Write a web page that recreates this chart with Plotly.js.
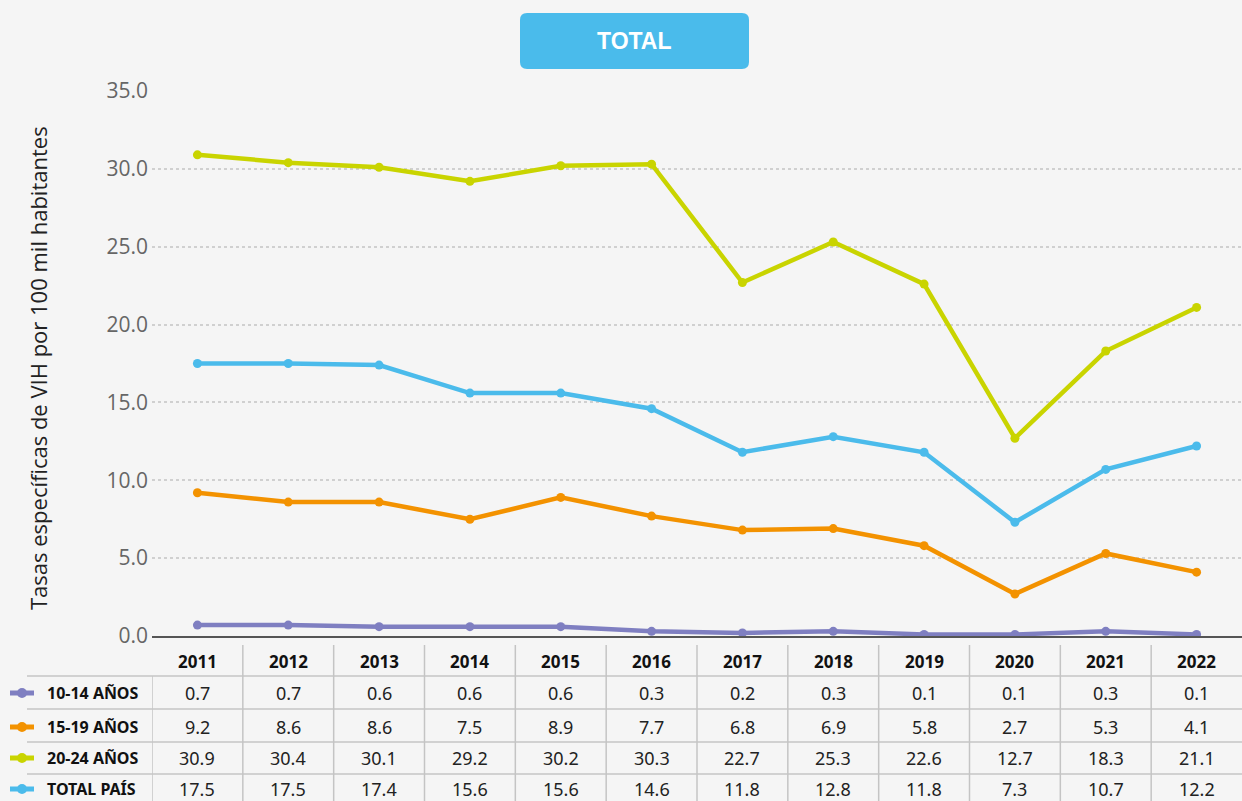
<!DOCTYPE html>
<html><head><meta charset="utf-8">
<script src="https://cdn.plot.ly/plotly-3.0.1.min.js"></script>
<style>html,body{margin:0;padding:0;background:#f5f5f5;}#chart{width:1242px;height:801px;}</style>
</head><body><div id="chart"></div>
<script>
const years = ['2011','2012','2013','2014','2015','2016','2017','2018','2019','2020','2021','2022'];
const serie1014 = [0.7,0.7,0.6,0.6,0.6,0.3,0.2,0.3,0.1,0.1,0.3,0.1];
const serie1519 = [9.2,8.6,8.6,7.5,8.9,7.7,6.8,6.9,5.8,2.7,5.3,4.1];
const serie2024 = [30.9,30.4,30.1,29.2,30.2,30.3,22.7,25.3,22.6,12.7,18.3,21.1];
const serieTotal = [17.5,17.5,17.4,15.6,15.6,14.6,11.8,12.8,11.8,7.3,10.7,12.2];
const seriesNames = ['10-14 AÑOS','15-19 AÑOS','20-24 AÑOS','TOTAL PAÍS'];
const seriesColors = ['#7f7fc1','#f39200','#c9d400','#4bbbeb'];
const yTicks = [0,5,10,15,20,25,30,35];
const chartTitle = 'TOTAL';
const yTitle = 'Tasas específicas de VIH por 100 mil habitantes';

const allSeries = [serie1014, serie1519, serie2024, serieTotal];

// layout geometry (pixels)
const W = 1242, H = 801, L = 152, R = 0, T = 91, B = 165;
const pw = W - L - R, ph = H - T - B;
const px = x => (x - L) / pw;
const py = y => (H - B - y) / ph;

const traces = allSeries.map((s, i) => ({
  type: 'scatter', mode: 'lines+markers', x: years, y: s, name: seriesNames[i],
  line: {color: seriesColors[i], width: 4.5},
  marker: {color: seriesColors[i], size: 9},
  hoverinfo: 'x+y+name'
}));

const annotations = [];
const shapes = [];

// Title box
const bx0 = 520, bx1 = 749, by0 = 13, by1 = 69, r = 7;
const rx = r / pw, ry = r / ph;
const X0 = px(bx0), X1 = px(bx1), Y0 = py(by0), Y1 = py(by1);
shapes.push({type: 'path', xref: 'paper', yref: 'paper',
  path: `M ${X0+rx},${Y0} L ${X1-rx},${Y0} Q ${X1},${Y0} ${X1},${Y0-ry} L ${X1},${Y1+ry} Q ${X1},${Y1} ${X1-rx},${Y1} L ${X0+rx},${Y1} Q ${X0},${Y1} ${X0},${Y1+ry} L ${X0},${Y0-ry} Q ${X0},${Y0} ${X0+rx},${Y0} Z`,
  fillcolor: '#4abbeb', line: {width: 0}, layer: 'above'});
annotations.push({text: '<b>' + chartTitle + '</b>', xref: 'paper', yref: 'paper',
  x: px((bx0 + bx1) / 2), y: py(41), showarrow: false, xanchor: 'center', yanchor: 'middle',
  font: {family: 'Liberation Sans, Arial, sans-serif', size: 23, color: '#ffffff'}});

// Y title
annotations.push({text: yTitle, xref: 'paper', yref: 'paper', x: px(38), y: py(368),
  textangle: -90, showarrow: false, xanchor: 'center', yanchor: 'middle',
  font: {family: 'Open Sans, Noto Sans, sans-serif', size: 22, color: '#222'}});

// Table
const headerY = 662;
const rowY = [693, 727, 758, 789];
const hLines = [676, 709, 742, 774];
const gridCol = '#c4c4c4';
years.forEach((yr, i) => {
  annotations.push({text: '<b>' + yr + '</b>', xref: 'x', yref: 'paper', x: i, y: py(headerY),
    showarrow: false, xanchor: 'center', yanchor: 'middle',
    font: {family: 'Noto Sans, sans-serif', size: 17, color: '#111'}});
});
allSeries.forEach((s, r) => {
  s.forEach((v, i) => {
    annotations.push({text: v.toFixed(1), xref: 'x', yref: 'paper', x: i, y: py(rowY[r]),
      showarrow: false, xanchor: 'center', yanchor: 'middle',
      font: {family: 'Noto Sans, sans-serif', size: 18, color: '#222'}});
  });
  annotations.push({text: '<b>' + seriesNames[r] + '</b>', xref: 'paper', yref: 'paper',
    x: px(45), y: py(rowY[r]), showarrow: false, xanchor: 'left', yanchor: 'middle',
    font: {family: 'Noto Sans, sans-serif', size: 16, color: '#111'}});
  shapes.push({type: 'line', xref: 'paper', yref: 'paper', x0: px(10), x1: px(34),
    y0: py(rowY[r]), y1: py(rowY[r]), line: {color: seriesColors[r], width: 5}});
  shapes.push({type: 'circle', xref: 'paper', yref: 'paper', x0: px(17), x1: px(27),
    y0: py(rowY[r] - 5), y1: py(rowY[r] + 5), fillcolor: seriesColors[r], line: {width: 0}});
});
hLines.forEach(y => shapes.push({type: 'line', xref: 'paper', yref: 'paper',
  x0: px(27), x1: 1, y0: py(y), y1: py(y), line: {color: gridCol, width: 1.5}}));
for (let i = 0; i < years.length - 1; i++) {
  shapes.push({type: 'line', xref: 'x', yref: 'paper', x0: i + 0.5, x1: i + 0.5,
    y0: py(645), y1: py(H + 5), line: {color: gridCol, width: 1.5}});
}
shapes.push({type: 'line', xref: 'x', yref: 'paper', x0: -0.5, x1: -0.5,
  y0: py(676), y1: py(H + 5), line: {color: gridCol, width: 1.5}});

const layout = {
  width: W, height: H,
  margin: {l: L, r: R, t: T, b: B, pad: 0},
  paper_bgcolor: '#f5f5f5', plot_bgcolor: '#f5f5f5',
  showlegend: false,
  xaxis: {type: 'category', range: [-0.5, 11.5], showticklabels: false, showgrid: false,
    zeroline: false, showline: true, linecolor: '#555', linewidth: 2, ticks: '', fixedrange: true},
  yaxis: {range: [0, 35], tickvals: yTicks, ticktext: yTicks.map(v => v.toFixed(1)),
    showgrid: true, gridcolor: '#d0d0d0', gridwidth: 2, griddash: 'dot', zeroline: false,
    showline: false, ticks: '', ticklabelstandoff: 3,
    tickfont: {family: 'Open Sans, Noto Sans, sans-serif', size: 21, color: '#666'}},
  annotations: annotations, shapes: shapes
};

Plotly.newPlot('chart', traces, layout, {displayModeBar: false, staticPlot: true});
</script></body></html>
